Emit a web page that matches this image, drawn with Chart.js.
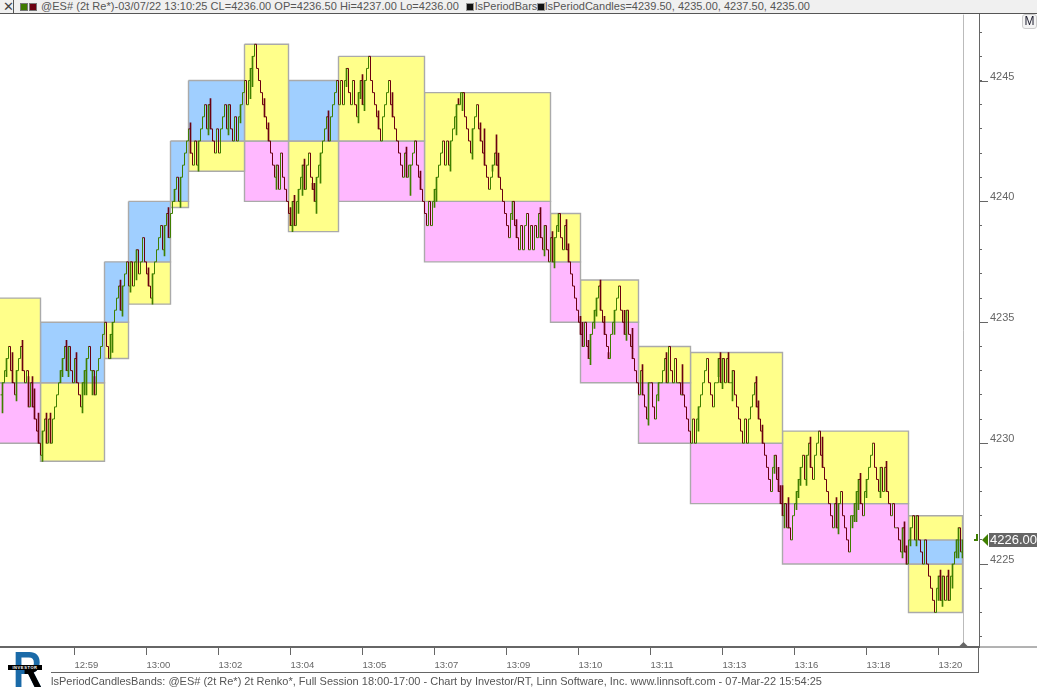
<!DOCTYPE html>
<html>
<head>
<meta charset="utf-8">
<title>lsPeriodCandlesBands</title>
<script src="https://cdn.jsdelivr.net/npm/chart.js@4"></script>
<style>
html,body{margin:0;padding:0;background:#fff;overflow:hidden}
#wrap{position:relative;width:1037px;height:689px;font-family:"Liberation Sans",sans-serif}
canvas{position:absolute;left:0;top:0}
.t{position:absolute;white-space:nowrap;color:#555;font-size:11px;line-height:13px}
#bar{position:absolute;left:0;top:0;width:1037px;height:13px;background:#f0f0f0;border-bottom:1px solid #555}
.sq{position:absolute;width:6px;height:6px;top:3px;border:1px solid #777}
</style>
</head>
<body>
<div id="wrap">
<canvas id="c" width="1037" height="689"></canvas>
<div id="bar"></div>
<div style="position:absolute;left:0;top:0;width:13px;height:13px;border:1px solid #555;border-top:0;border-left:0"></div>
<div class="t" style="left:3px;top:0;font-size:13px;color:#444">✕</div>
<div class="sq" style="left:20px;background:#3f7a00"></div>
<div class="sq" style="left:29px;background:#6b0010"></div>
<div class="t" id="h1" style="left:41px;top:0;letter-spacing:.04px">@ES# (2t Re*)-03/07/22 13:10:25 CL=4236.00 OP=4236.50 Hi=4237.00 Lo=4236.00</div>
<div class="sq" style="left:466px;background:#111;border-color:#999"></div>
<div class="t" id="h2" style="left:475px;top:0">lsPeriodBars</div>
<div class="sq" style="left:537px;background:#111;border-color:#999"></div>
<div class="t" id="h3" style="left:545px;top:0;letter-spacing:.02px">lsPeriodCandles=4239.50, 4235.00, 4237.50, 4235.00</div>
<div class="t" style="left:1022px;top:14px;width:13px;height:13px;border:1px solid #ccc;border-radius:3px;text-align:center;color:#223;background:#f4f4f4;font-size:12px">M</div>
<div class="t" id="foot" style="left:51px;top:675px;font-size:11px;color:#555">lsPeriodCandlesBands: @ES# (2t Re*) 2t Renko*, Full Session 18:00-17:00 - Chart by Investor/RT, Linn Software, Inc. www.linnsoft.com - 07-Mar-22 15:54:25</div>
<div id="logo" style="position:absolute;left:8px;top:648px;width:36px;height:41px;overflow:hidden">
  <div style="position:absolute;left:5px;top:-3px;font:bold 50px/50px 'Liberation Sans',sans-serif;color:#1a6aa8;transform:scaleX(.8);transform-origin:left top">R</div>
  <div style="position:absolute;left:5px;top:-3px;font:bold 50px/50px 'Liberation Sans',sans-serif;color:#000;transform:scaleX(.8);transform-origin:left top;clip-path:polygon(40% 50%,100% 50%,100% 100%,40% 100%)">R</div>
  <div style="position:absolute;left:0;top:17px;width:34px;height:5px;background:#000;color:#fff;font:bold 4px/5px 'Liberation Sans',sans-serif;text-align:center;letter-spacing:.6px">INVESTOR</div>
</div>
</div>
<script>
// renko closes, one per bar, bar 0 at the left edge
var closes = [
4232,4232.5,4233,4233.5,4234,4233,4232.5,4232,4233,4233.5,4234,4233,4232.5,4233,4231.5,4232.5,4231.5,4231,4230.5,4230,4229.5,
4230.5,4231,4230,4231,4230,4231,4231.5,4232,4232.5,4233,4233.5,4234,4233,4234,4233,
4232.5,4233.5,4232.5,4232,4231.5,4232.5,4233,4233.5,4234,4233,4233,4232,4233,4233.5,4234,4234.5,4235,
4234,4233.5,4234.5,4235,4235.5,4236,4236.5,4235.5,4236.5,4237,4237.5,4236.5,4237.5,4236.5,4237.5,4238,4237,4237.5,4238.5,4237.5,4237,4236.5,4236,4237,4237.5,4238,4238.5,4239,4238,4239,4239.5,4238.5,4239.5,4240,
4240.5,4241,4240,4241,4241.5,4242,4242.5,4243,4242,4241.5,4242.5,4241.5,4242.5,4243,4243.5,4244,4243,4244,4243,4242.5,4242,4243,4242,4243,4243.5,4244,4243,4244,4243,4242.5,4243.5,4242.5,4243.5,4244,4244.5,4245,4244,4245,4245.5,4246,4246.5,4245.5,4245,4244.5,4244,4243.5,4243,4242.5,
4242,4241.5,4241,4241.5,4240.5,4242,4241,4240.5,4240,4239.5,4239,4240,4239,4240,4240.5,4241,4241.5,4240.5,4241.5,4242,4241,4240.5,4240,4241,4241.5,4242,4242.5,4243,4243.5,4242.5,4243.5,4244,4244.5,4245,4244,4245,
4244,4245,4245.5,4244.5,4244,4245,4244,4243.5,4244.5,4245,4244,4245,4245.5,4246,4245,4244.5,4244,4243.5,4243,4242.5,4243.5,4244,4244.5,4245,4244,4243.5,4243,4242.5,4242,4241.5,4241,4242,4241,4241.5,4241.5,4242,4242.5,4241.5,4241,4240.5,4240,4239.5,
4239,4240,4239,4240,4240.5,4241,4241.5,4242,4242.5,4241.5,4242.5,4241.5,4242.5,4243,4243.5,4244,4244,4244.5,4244.5,4243.5,4243,4242.5,4242,4243,4243.5,4244,4243,4242.5,4242,4241.5,4241,4240.5,4241,4241.5,4242,4241.5,4241,4240.5,4240,4239.5,4239,4238.5,4239.5,4240,
4239,4238.5,4238,4239,4238,4239,4239.5,4238,4239,4238,4239,4238.5,4239.5,4238.5,4238,4239,4238,4237.5,4238.5,4237.5,4238.5,4239,4239.5,4238.5,4238,4239,4238,4237.5,4237,4236.5,4236,4235.5,4235,4234.5,4234,4235,4234,4233.5,4234.5,4235,4235.5,4236,4236.5,4235.5,
4235,4234.5,4234,4233.5,4234.5,4235,4235.5,4236,4236.5,4235.5,4235,4234.5,4235.5,4234.5,4234,4233.5,4233,4232.5,4232,4233,4232,4231.5,4231,4232.5,4232.5,4231.5,4231,4232,4232.5,4232.5,4233,4233.5,4232.5,4234,4233,4232.5,4233.5,4232.5,4232.5,4232,4232,4231.5,4231,4230.5,4230,
4231,4230,4231,4231.5,4232,4232.5,4233,4233.5,4232.5,4232,4231.5,4232.5,4232.5,4233.5,4232.5,4233.5,4232.5,4233.5,4232.5,4232.5,4233,4232,4231.5,4231,4230.5,4230,4231,4230,4231,4231.5,4232,4232.5,4231.5,4231,4230.5,4230,4229.5,4229,4228.5,4228,4229,4229.5,4228.5,4228,4227.5,4227,4227.5,4226.5,
4226.5,4226,4227,4227.5,4228,4228.5,4229,4229.5,4228.5,4229.5,4230,4229,4228.5,4229.5,4230,4230.5,4229.5,4229,4228.5,4228,4227.5,4227,4226.5,4227.5,4226.5,4227.5,4228,4227,4226.5,4226,4225.5,4227,4227,4227.5,4228,4228.5,4227.5,4227,4228,4228.5,4229,4229.5,4230,4229,4228.5,4228,4229,
4228,4229,4228,4227.5,4227,4227.5,4226.5,4226.5,4226,4225.5,4226.5,4225.5,4225,4226,4226.5,4227,4226,4227,4226,4225.5,4225,4226,4225,4224.5,4224,4223.5,4223,4224,4224.5,4223.5,4224.5,4223.5,4224.5,4223.5,4224.5,4225,4225.5,4226,4226.5,4225.5,4226
];

// bars that have a tail, and the price the tail reaches
var wickBars = [1,3,6,8,11,14,16,17,19,21,23,25,30,31,33,34,38,41,42,43,46,47,55,56,60,61,65,68,74,76,82,84,87,90,95,99,104,105,114,120,125,126,132,134,138,145,146,147,149,151,152,156,157,158,160,164,173,179,180,181,182,189,196,203,205,210,217,218,225,228,229,231,236,240,242,246,248,249,256,258,270,272,276,277,279,283,284,290,291,294,295,297,298,300,302,304,307,312,313,316,321,324,329,333,341,349,359,360,361,364,366,378,379,381,387,389,390,391,392,394,398,399,400,403,405,411,418,419,426,427,428,429,430,433,440,443,451,452,453,455,458,469,470,471,474,476,478,479,481];
var wickEnds = [4231.25,4232.75,4233.75,4231.75,4234.25,4232.75,4232.75,4232.25,4231.25,4229.25,4231.25,4231.25,4232.5,4232.75,4234.25,4232.75,4233.75,4231.25,4232,4232,4232,4232.75,4233.5,4233.75,4236.75,4235.25,4236.25,4236.75,4237.25,4235.75,4237.75,4239.75,4240,4239.75,4243.25,4241.25,4242.75,4244.25,4242.75,4243.25,4244.25,4244.75,4244.25,4243.25,4240.5,4239.75,4238.75,4240.25,4239.5,4240.25,4241.75,4240.75,4240.75,4239.5,4240.75,4243.75,4244.75,4243.25,4244.25,4245.25,4243.75,4243.75,4244.5,4242.25,4240.25,4241.25,4239.75,4240,4241.25,4242.75,4244.25,4243.75,4241.75,4243.25,4243,4241.25,4242.75,4242,4239.25,4239.25,4239.75,4237.75,4238.75,4237.25,4238.75,4239.25,4238.25,4235.25,4235,4234.25,4233.25,4234.75,4235.25,4236.75,4235.25,4233.75,4234.5,4235.5,4234.25,4234.75,4233.25,4230.75,4231.75,4233.75,4233.25,4230.5,4232.75,4233.75,4232.25,4233.75,4231.75,4232.75,4231.75,4230.75,4228.75,4229,4228.25,4228.25,4226.5,4227.75,4227.25,4227.75,4228.25,4228.25,4230.25,4230.25,4227.75,4226.25,4226.5,4226.75,4226.75,4227.25,4228.75,4227.75,4227.75,4229.25,4225.25,4226.75,4225.75,4225.75,4225.75,4223.5,4224.75,4223.25,4224.75,4224,4225.25,4225.25,4225.25];

// period bands: first bar, last bar, top price, bottom price, kind
var bandFrom = [-1,-1,20,20,52,52,64,64,85,85,94,94,122,122,144,144,169,169,212,212,275,275,290,290,319,319,345,345,391,391,454,454,454];
var bandTo   = [20,20,52,52,64,64,85,85,94,94,122,122,144,144,169,169,212,212,275,275,290,290,319,319,345,345,391,391,454,454,481,481,481];
var bandTop  = [4236,4232.5,4235,4232.5,4237.5,4235,4240,4237.5,4242.5,4240,4245,4242.5,4246.5,4242.5,4245,4242.5,4246,4242.5,4244.5,4240,4239.5,4237.5,4236.75,4235,4234,4232.5,4233.75,4230,4230.5,4227.5,4227,4226,4225];
var bandBot  = [4232.5,4230,4232.5,4229.25,4235,4233.5,4237.5,4235.75,4240,4239.75,4242.5,4241.25,4242.5,4240,4242.5,4238.75,4242.5,4240,4240,4237.5,4237.5,4235,4235,4232.5,4232.5,4230,4230,4227.5,4227.5,4225,4226,4225,4223];
var bandKind = ['wick','down','up','wick','up','wick','up','wick','up','wick','up','wick','wick','down','up','wick','wick','down','wick','down','wick','down','wick','down','wick','down','wick','down','wick','down','wick','up','wick'];

// time axis
var timeBars = [37,73,109,145,181,217,253,289,325,361,397,433,469];
var timeLabels = ['12:59','13:00','13:02','13:04','13:05','13:07','13:09','13:10','13:11','13:13','13:16','13:18','13:20'];

var kindColors = {wick:'#ffff8a', up:'#a0cfff', down:'#ffb8ff'};
var upColor = '#3f7f00', downColor = '#6b0010', axisColor = '#666';
var lastClose = closes[closes.length - 1];

var datasets = [{
    type: 'line',
    data: closes.map(function(c, i){ return {x: i, y: c}; }),
    stepped: 'before',
    borderWidth: 1,
    borderColor: upColor,
    pointRadius: 0,
    fill: false,
    order: 0,
    segment: {
        borderColor: function(ctx){ return ctx.p1.parsed.y < ctx.p0.parsed.y ? downColor : upColor; }
    }
},{
    type: 'bar',
    data: wickBars.map(function(b, i){ return {x: b, y: [closes[b], wickEnds[i]]}; }),
    barThickness: 1,
    backgroundColor: function(ctx){
        var r = ctx.raw;
        return r && r.y[1] > r.y[0] ? downColor : upColor;
    },
    order: 1
}];

bandFrom.forEach(function(from, i){
    datasets.push({
        type: 'line',
        data: [
            {x: from, y: bandTop[i]}, {x: bandTo[i], y: bandTop[i]},
            {x: bandTo[i], y: bandBot[i]}, {x: from, y: bandBot[i]}, {x: from, y: bandTop[i]}
        ],
        fill: 'shape',
        backgroundColor: kindColors[bandKind[i]],
        borderColor: '#aaa',
        borderWidth: 1.4,
        pointRadius: 0,
        tension: 0,
        order: 2
    });
});

// things the axes can't do by themselves: long ticks, cursor, price tag, frame
var chrome = {
    id: 'chrome',
    afterDraw: function(chart){
        var g = chart.ctx, x = chart.scales.x, y = chart.scales.y, a = chart.chartArea;
        g.save();
        g.strokeStyle = axisColor;
        g.lineWidth = 1;
        y.ticks.forEach(function(t){
            if (t.value % 5 === 0) {
                var py = Math.round(y.getPixelForValue(t.value)) + 0.5;
                g.beginPath(); g.moveTo(a.right, py); g.lineTo(a.right + 9, py); g.stroke();
            }
        });
        g.beginPath();
        g.moveTo(a.right, a.bottom); g.lineTo(1037, a.bottom);
        g.moveTo(a.right - 0.5, a.bottom); g.lineTo(a.right - 0.5, 673);
        g.moveTo(51, 672.5); g.lineTo(a.right, 672.5);
        g.stroke();

        var cx = Math.round(x.getPixelForValue(481.25)) + 0.5;
        g.strokeStyle = '#bbb';
        g.beginPath(); g.moveTo(cx, a.top); g.lineTo(cx, a.bottom); g.stroke();
        g.fillStyle = '#666';
        g.beginPath(); g.moveTo(cx - 5, a.bottom); g.lineTo(cx, a.bottom - 5); g.lineTo(cx + 5, a.bottom); g.fill();

        var py2 = Math.round(y.getPixelForValue(lastClose));
        g.fillStyle = '#666';
        g.fillRect(989, py2 - 7, 48, 14);
        g.fillStyle = upColor;
        g.beginPath(); g.moveTo(982, py2); g.lineTo(988, py2 - 6); g.lineTo(988, py2 + 6); g.fill();
        g.fillRect(974, py2 - 1, 4, 2);
        g.fillRect(976, py2 - 6, 2, 6);
        g.fillStyle = '#fff';
        g.font = '13px "Liberation Sans"';
        g.textBaseline = 'middle';
        g.textAlign = 'left';
        g.fillText(lastClose.toFixed(2), 990, py2 + 0.5);
        g.restore();
    }
};

new Chart(document.getElementById('c').getContext('2d'), {
    type: 'line',
    data: {datasets: datasets},
    plugins: [chrome],
    options: {
        responsive: false,
        animation: false,
        layout: {padding: {top: 14, left: 0, right: 0, bottom: 0}},
        plugins: {legend: {display: false}, tooltip: {enabled: false}, title: {display: false}},
        scales: {
            x: {
                type: 'linear',
                offset: false,
                min: -0.25,
                max: 489.25,
                afterFit: function(s){ s.height = 42; },
                afterBuildTicks: function(s){ s.ticks = timeBars.map(function(b){ return {value: b}; }); },
                border: {color: axisColor, width: 2},
                grid: {offset: false, drawOnChartArea: false, tickLength: 8, tickColor: axisColor},
                ticks: {
                    autoSkip: false,
                    maxRotation: 0,
                    align: 'start',
                    padding: 5,
                    color: '#666',
                    font: {family: 'Liberation Sans', size: 9.5},
                    callback: function(v, i){ return timeLabels[i]; }
                }
            },
            y: {
                position: 'right',
                min: 4221.57,
                max: 4247.727,
                afterFit: function(s){ s.width = 58; },
                border: {color: axisColor, width: 1},
                grid: {drawOnChartArea: false, tickLength: 3, tickColor: axisColor},
                ticks: {
                    stepSize: 1,
                    includeBounds: false,
                    autoSkip: false,
                    padding: 8,
                    labelOffset: -4,
                    color: '#666',
                    font: {family: 'Liberation Sans', size: 11},
                    callback: function(v){ return v % 5 === 0 ? String(v) : ''; }
                }
            }
        }
    }
});
</script>
</body>
</html>
